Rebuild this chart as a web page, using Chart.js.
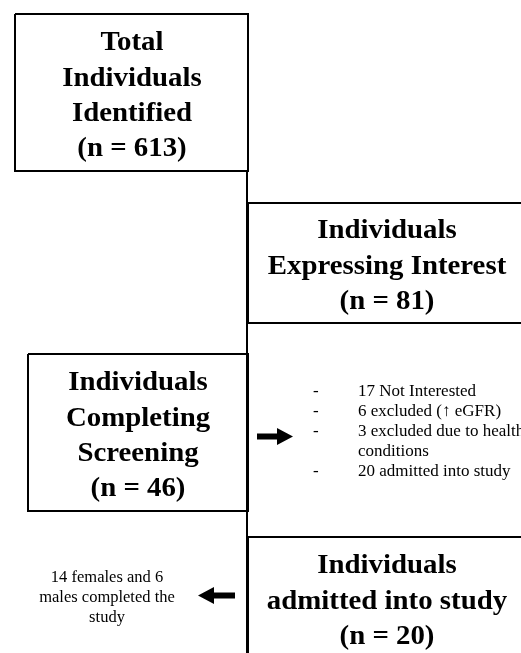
<!DOCTYPE html>
<html lang="en">
<head>
  <meta charset="UTF-8">
  <title>Participant Flow</title>
  <script src="https://cdn.jsdelivr.net/npm/chart.js"></script>
  <style>
    html, body { margin: 0; padding: 0; background: #fff; }
    #wrap { width: 521px; height: 653px; position: relative; }
  </style>
</head>
<body>
<div id="wrap"><canvas id="chart"></canvas></div>

<script>
// flow steps (text only)
const stepTitles = [
  ["Total", "Individuals", "Identified"],
  ["Individuals", "Expressing Interest"],
  ["Individuals", "Completing", "Screening"],
  ["Individuals", "admitted into study"]
];
const stepCounts = [613, 81, 46, 20];

// screening outcomes list
const outcomeLines = [
  "17 Not Interested",
  "6 excluded (\u2191 eGFR)",
  "3 excluded due to health",
  "conditions",
  "20 admitted into study"
];
const outcomeBullet = [true, true, true, false, true];

const finalNote = ["14 females and 6", "males completed the", "study"];

// layout in chart units (axis = 521 x 653, y grows downward)
const boxRects = [
  { x0: 15, y0: 14, x1: 248, y1: 171 },
  { x0: 248, y0: 203, x1: 540, y1: 323 },
  { x0: 28, y0: 354, x1: 248, y1: 511 },
  { x0: 248, y0: 537, x1: 540, y1: 700 }
];
const boxText = [
  { cx: 132, y: 42 },
  { cx: 387, y: 230 },
  { cx: 138, y: 382 },
  { cx: 387, y: 565 }
];

function rectPoints(r) {
  return [
    { x: r.x0, y: r.y0 }, { x: r.x1, y: r.y0 },
    { x: r.x1, y: r.y1 }, { x: r.x0, y: r.y1 }, { x: r.x0, y: r.y0 }
  ];
}

const datasets = boxRects.map((r, i) => ({
  label: "box" + i,
  data: rectPoints(r),
  borderColor: "#000",
  borderWidth: 2,
  pointRadius: 0,
  showLine: true,
  fill: false,
  tension: 0
}));
// connector down the middle
datasets.push({
  label: "connector",
  data: [{ x: 247, y: 171 }, { x: 247, y: 660 }],
  borderColor: "#000",
  borderWidth: 2,
  pointRadius: 0,
  showLine: true,
  fill: false
});

function arrow(ctx, xs, ys, from, to, yc) {
  const dir = Math.sign(to - from);
  const tip = xs.getPixelForValue(to);
  const base = xs.getPixelForValue(to - dir * 16);
  const tail = xs.getPixelForValue(from);
  const y = ys.getPixelForValue(yc);
  ctx.beginPath();
  ctx.moveTo(tail, y - 3);
  ctx.lineTo(base, y - 3);
  ctx.lineTo(base, y - 8.5);
  ctx.lineTo(tip, y);
  ctx.lineTo(base, y + 8.5);
  ctx.lineTo(base, y + 3);
  ctx.lineTo(tail, y + 3);
  ctx.closePath();
  ctx.fill();
}

// slightly wide bold captions, like the original
function wideText(ctx, t, x, y) {
  ctx.save();
  ctx.translate(x, y);
  ctx.scale(1.03, 1);
  ctx.fillText(t, 0, 0);
  ctx.restore();
}

const flowText = {
  id: "flowText",
  afterDatasetsDraw(chart) {
    const ctx = chart.ctx;
    const xs = chart.scales.x, ys = chart.scales.y;
    ctx.save();
    ctx.fillStyle = "#000";
    ctx.textBaseline = "middle";

    // box captions
    ctx.font = "bold 28px 'Liberation Serif', 'Times New Roman', serif";
    ctx.textAlign = "center";
    stepTitles.forEach((lines, i) => {
      const all = lines.concat(["(n = " + stepCounts[i] + ")"]);
      all.forEach((t, j) => {
        wideText(ctx, t, xs.getPixelForValue(boxText[i].cx), ys.getPixelForValue(boxText[i].y + 1 + j * 35.3));
      });
    });

    // outcomes list
    ctx.font = "17px 'Liberation Serif', 'Times New Roman', serif";
    ctx.textAlign = "left";
    outcomeLines.forEach((t, j) => {
      const y = ys.getPixelForValue(392 + j * 19.8);
      if (outcomeBullet[j]) ctx.fillText("-", xs.getPixelForValue(313), y);
      ctx.fillText(t, xs.getPixelForValue(358), y);
    });

    // final note
    ctx.font = "16.5px 'Liberation Serif', 'Times New Roman', serif";
    ctx.textAlign = "center";
    finalNote.forEach((t, j) => {
      ctx.fillText(t, xs.getPixelForValue(107), ys.getPixelForValue(578 + j * 20));
    });

    arrow(ctx, xs, ys, 257, 293, 436.5);
    arrow(ctx, xs, ys, 235, 198, 595.5);
    ctx.restore();
  }
};

new Chart(document.getElementById("chart"), {
  type: "scatter",
  data: { datasets: datasets },
  options: {
    responsive: true,
    maintainAspectRatio: false,
    animation: false,
    layout: { padding: 0 },
    plugins: { legend: { display: false }, tooltip: { enabled: false } },
    scales: {
      x: { type: "linear", min: 0, max: 521, display: false },
      y: { type: "linear", min: 0, max: 653, reverse: true, display: false }
    }
  },
  plugins: [flowText]
});
</script>
</body>
</html>
